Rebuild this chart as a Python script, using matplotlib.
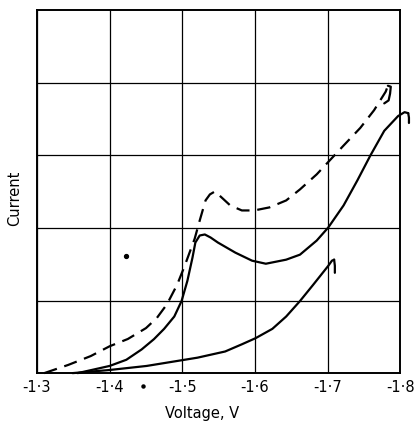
import numpy as np
import matplotlib.pyplot as plt

# voltage grid / tick labels
xticks = [-1.3, -1.4, -1.5, -1.6, -1.7, -1.8]
xlabels = ["-1·3", "-1·4", "-1·5", "-1·6", "-1·7", "-1·8"]

# dashed curve
dash_v = [-1.310, -1.343, -1.374, -1.400, -1.425, -1.450, -1.465, -1.479, -1.493,
          -1.503, -1.517, -1.524, -1.532, -1.538, -1.545, -1.554, -1.566, -1.582,
          -1.599, -1.620, -1.643, -1.662, -1.685, -1.703, -1.722, -1.745, -1.764,
          -1.780, -1.783]
dash_i = [0.0, 0.113, 0.235, 0.370, 0.470, 0.620, 0.760, 0.950, 1.220,
          1.470, 1.850, 2.103, 2.379, 2.462, 2.503, 2.421, 2.310, 2.241,
          2.241, 2.283, 2.379, 2.531, 2.738, 2.931, 3.135, 3.378, 3.622,
          3.878, 3.959]
dash_hook_v = [-1.783, -1.787, -1.786, -1.784, -1.778]
dash_hook_i = [3.959, 3.946, 3.850, 3.757, 3.716]

# middle solid curve
mid_v = [-1.356, -1.400, -1.423, -1.444, -1.461, -1.475, -1.489, -1.499, -1.507,
         -1.514, -1.518, -1.524, -1.531, -1.539, -1.549, -1.573, -1.596, -1.615,
         -1.643, -1.662, -1.685, -1.701, -1.722, -1.741, -1.759, -1.778, -1.797,
         -1.806, -1.811]
mid_i = [0.0, 0.099, 0.184, 0.326, 0.468, 0.610, 0.780, 0.993, 1.271,
         1.590, 1.799, 1.896, 1.910, 1.868, 1.799, 1.660, 1.549, 1.507,
         1.563, 1.632, 1.826, 2.007, 2.310, 2.655, 3.000, 3.338, 3.541,
         3.595, 3.581]
mid_hook_v = [-1.811, -1.812, -1.812]
mid_hook_i = [3.581, 3.52, 3.446]

# lower solid curve
low_v = [-1.349, -1.400, -1.451, -1.521, -1.559, -1.582, -1.601, -1.624, -1.643,
         -1.662, -1.680, -1.701, -1.706, -1.709]
low_i = [0.0, 0.043, 0.099, 0.213, 0.298, 0.397, 0.482, 0.610, 0.780,
         0.993, 1.215, 1.479, 1.549, 1.563]
low_hook_v = [-1.709, -1.710, -1.710]
low_hook_i = [1.563, 1.48, 1.382]

# stray dots
dot_v = [-1.423]
dot_i = [1.618]
axis_dot_v = [-1.446]
axis_dot_i = [-0.184]

fig = plt.figure(figsize=(4.18, 4.24), dpi=100)
ax = fig.add_axes([0.0885, 0.12, 0.869, 0.856])

kw = dict(color='black', lw=1.6, solid_joinstyle='round', solid_capstyle='round',
          clip_on=False)
ax.plot(dash_v, dash_i, color='black', lw=1.6, dashes=(6, 3.5),
        dash_joinstyle='round', clip_on=False)
ax.plot(dash_hook_v, dash_hook_i, **kw)
ax.plot(mid_v, mid_i, **kw)
ax.plot(mid_hook_v, mid_hook_i, **kw)
ax.plot(low_v, low_i, **kw)
ax.plot(low_hook_v, low_hook_i, **kw)
ax.plot(dot_v, dot_i, 'o', color='black', ms=2.8)
ax.plot(axis_dot_v, axis_dot_i, 'o', color='black', ms=2.2, clip_on=False)

ax.set_xlim(-1.3, -1.8)
ax.set_ylim(0, 5)
ax.set_xticks(xticks)
ax.set_xticklabels(xlabels, fontsize=10.5)
ax.set_yticks([1, 2, 3, 4])
ax.set_yticklabels([])
ax.tick_params(length=0, pad=5)
ax.grid(True, color='black', lw=0.9)
for s in ax.spines.values():
    s.set_linewidth(1.4)

fig.text(0.036, 0.533, "Current", rotation=90, fontsize=10.5, ha='center', va='center')
fig.text(0.483, 0.024, "Voltage, V", fontsize=10.5, ha='center', va='center')

fig.savefig("out.png", dpi=100)
